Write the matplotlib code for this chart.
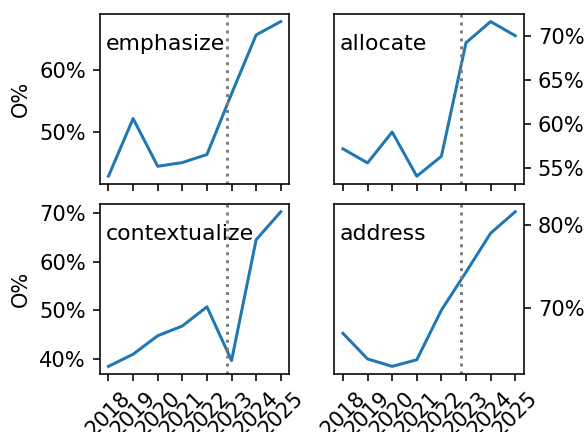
import matplotlib
matplotlib.use("Agg")
import matplotlib.pyplot as plt
from matplotlib.ticker import PercentFormatter

years = [2018, 2019, 2020, 2021, 2022, 2023, 2024, 2025]
cutoff = 2022.8

words = ["emphasize", "allocate", "contextualize", "address"]
emphasize = [42.8, 52.1, 44.4, 45.0, 46.3, 56.1, 65.6, 67.75]
allocate = [57.2, 55.6, 59.1, 54.1, 56.35, 69.2, 71.6, 70.0]
contextualize = [38.5, 41.0, 44.8, 46.8, 50.75, 39.7, 64.55, 70.3]
address = [66.9, 63.8, 62.9, 63.7, 69.7, 74.3, 79.0, 81.6]
series = [emphasize, allocate, contextualize, address]
yticks = [[50, 60], [55, 60, 65, 70], [40, 50, 60, 70], [70, 80]]

plt.rcParams["font.size"] = 11

fig, axes = plt.subplots(2, 2, sharex=True, figsize=(584 / 144, 432 / 144), dpi=144)
fig.subplots_adjust(left=0.171, right=0.897, bottom=0.134, top=0.968,
                    wspace=0.237, hspace=0.118)

for i, ax in enumerate(axes.flat):
    ax.plot(years, series[i], color="#1f77b4", lw=1.5)
    ax.axvline(cutoff, color="gray", ls=":", lw=1.5)
    ax.text(0.03, 0.88, words[i], transform=ax.transAxes, va="top")
    ax.set_yticks(yticks[i])
    ax.yaxis.set_major_formatter(PercentFormatter(xmax=100, decimals=0))
    ax.tick_params(labelsize=10.5)
    if i % 2 == 1:
        ax.yaxis.tick_right()
    else:
        ax.set_ylabel("O%", fontsize=10.5)

for ax in axes[1]:
    ax.set_xticks(years)
    ax.set_xticklabels([str(y) for y in years], rotation=45)

fig.savefig("out.png", dpi=144)
